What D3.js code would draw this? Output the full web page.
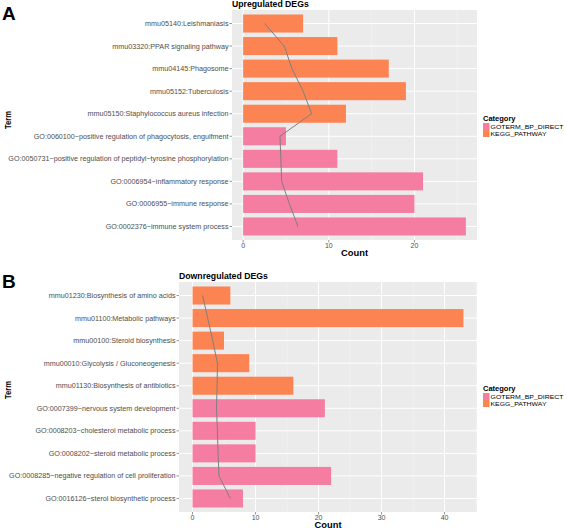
<!DOCTYPE html>
<html><head><meta charset="utf-8">
<script src="https://cdn.jsdelivr.net/npm/d3@7"></script>
<style>body{margin:0;background:#fff}svg{display:block}text{font-family:"Liberation Sans",Arial,sans-serif}</style>
</head><body>
<script>
// ---- data ----
const upTerms = ["mmu05140:Leishmaniasis","mmu03320:PPAR signaling pathway","mmu04145:Phagosome","mmu05152:Tuberculosis","mmu05150:Staphylococcus aureus infection","GO:0060100~positive regulation of phagocytosis, engulfment","GO:0050731~positive regulation of peptidyl~tyrosine phosphorylation","GO:0006954~inflammatory response","GO:0006955~immune response","GO:0002376~immune system process"];
const upCategory = ["KEGG_PATHWAY","KEGG_PATHWAY","KEGG_PATHWAY","KEGG_PATHWAY","KEGG_PATHWAY","GOTERM_BP_DIRECT","GOTERM_BP_DIRECT","GOTERM_BP_DIRECT","GOTERM_BP_DIRECT","GOTERM_BP_DIRECT"];
const upCount = [7,11,17,19,12,5,11,21,20,26];
const upLine = [2.5,4.8,5.7,7.0,8.0,4.3,4.4,4.5,5.4,6.4];

const downTerms = ["mmu01230:Biosynthesis of amino acids","mmu01100:Metabolic pathways","mmu00100:Steroid biosynthesis","mmu00010:Glycolysis / Gluconeogenesis","mmu01130:Biosynthesis of antibiotics","GO:0007399~nervous system development","GO:0008203~cholesterol metabolic process","GO:0008202~steroid metabolic process","GO:0008285~negative regulation of cell proliferation","GO:0016126~sterol biosynthetic process"];
const downCategory = ["KEGG_PATHWAY","KEGG_PATHWAY","KEGG_PATHWAY","KEGG_PATHWAY","KEGG_PATHWAY","GOTERM_BP_DIRECT","GOTERM_BP_DIRECT","GOTERM_BP_DIRECT","GOTERM_BP_DIRECT","GOTERM_BP_DIRECT"];
const downCount = [6,43,5,9,16,21,10,10,22,8];
const downLine = [1.6,2.4,3.2,3.95,3.9,3.8,3.95,4.05,4.2,6.0];

const upTicks = [0,10,20];
const downTicks = [0,10,20,30,40];
const categories = ["GOTERM_BP_DIRECT","KEGG_PATHWAY"];
const colors = ["#F47DA1","#FB8452"];

const svg = d3.select("body").append("svg").attr("width",567).attr("height",528);
const color = d3.scaleOrdinal().domain(categories).range(colors);

function panel(o){
  const g = svg.append("g");
  const n = o.terms.length;
  const maxV = d3.max(o.count);
  const x = d3.scaleLinear().domain([-0.05*maxV, maxV*1.05]).range([o.x0,o.x1]);
  const y = d3.scaleLinear().domain([0.4, n+0.6]).range([o.y0,o.y1]);
  g.append("rect").attr("x",o.x0).attr("y",o.y0).attr("width",o.x1-o.x0).attr("height",o.y1-o.y0).attr("fill","#EBEBEB");
  const step = o.ticks[1]-o.ticks[0];
  const minor = o.ticks.map(t=>t+step/2).filter(v=>x(v)<o.x1);
  g.selectAll(".mn").data(minor).enter().append("line").attr("x1",d=>x(d)).attr("x2",d=>x(d)).attr("y1",o.y0).attr("y2",o.y1).attr("stroke","#F7F7F7").attr("stroke-width",0.5);
  g.selectAll(".mj").data(o.ticks).enter().append("line").attr("x1",d=>x(d)).attr("x2",d=>x(d)).attr("y1",o.y0).attr("y2",o.y1).attr("stroke","#fff").attr("stroke-width",1);
  g.selectAll(".hg").data(o.terms).enter().append("line").attr("x1",o.x0).attr("x2",o.x1).attr("y1",(d,i)=>y(i+1)).attr("y2",(d,i)=>y(i+1)).attr("stroke","#fff").attr("stroke-width",1);
  const bw = (y(1)-y(0))*0.8;
  g.selectAll(".bar").data(o.count).enter().append("rect")
    .attr("x",x(0)).attr("y",(d,i)=>y(i+1)-bw/2).attr("width",d=>x(d)-x(0)).attr("height",bw)
    .attr("fill",(d,i)=>color(o.cat[i]));
  const line = d3.line().x(d=>x(d)).y((d,i)=>y(i+1));
  g.append("path").datum(o.line).attr("d",line).attr("fill","none").attr("stroke","#7F7F7F").attr("stroke-width",1);
  g.selectAll(".yt").data(o.terms).enter().append("line").attr("x1",o.x0-2.5).attr("x2",o.x0).attr("y1",(d,i)=>y(i+1)).attr("y2",(d,i)=>y(i+1)).attr("stroke","#4D4D4D").attr("stroke-width",0.6);
  g.selectAll(".yl").data(o.terms).enter().append("text").attr("x",o.x0-3.5).attr("y",(d,i)=>y(i+1)).attr("dy","0.35em")
    .attr("text-anchor","end").attr("font-size",7.2).attr("fill","#4D4D4D").text(d=>d);
  g.selectAll(".xt").data(o.ticks).enter().append("line").attr("x1",d=>x(d)).attr("x2",d=>x(d)).attr("y1",o.y1).attr("y2",o.y1+2.5).attr("stroke","#4D4D4D").attr("stroke-width",0.6);
  g.selectAll(".xl").data(o.ticks).enter().append("text").attr("x",d=>x(d)).attr("y",o.y1+7.8).attr("text-anchor","middle").attr("font-size",7).attr("fill","#4D4D4D").text(d=>d);
  g.append("text").attr("x",(o.x0+o.x1)/2).attr("y",o.y1+15.5).attr("text-anchor","middle").attr("font-size",9).attr("font-weight","bold")
    .attr("textLength",27).attr("lengthAdjust","spacingAndGlyphs").text("Count");
  g.append("text").attr("transform",`translate(10.5,${o.termY}) rotate(-90)`).attr("text-anchor","middle").attr("font-size",9.5).attr("font-weight","bold")
    .attr("textLength",18).attr("lengthAdjust","spacingAndGlyphs").text("Term");
  g.append("text").attr("x",o.x0).attr("y",o.y0-3).attr("font-size",8.7).attr("font-weight","bold").text(o.title);
  g.append("text").attr("x",2).attr("y",o.letterY).attr("font-size",19).attr("font-weight","bold").text(o.letter);
  const lg = g.append("g").attr("transform",`translate(483,${o.legY})`);
  lg.append("text").attr("x",0).attr("y",0).attr("font-size",7.5).attr("font-weight","bold").text("Category");
  const lens = [73,56];
  categories.forEach((c,i)=>{
    lg.append("rect").attr("x",0).attr("y",2+i*7).attr("width",6.5).attr("height",7).attr("fill",color(c));
    lg.append("text").attr("x",7.5).attr("y",7.6+i*7).attr("font-size",6.2).attr("fill","#000")
      .attr("textLength",lens[i]).attr("lengthAdjust","spacingAndGlyphs").text(c);
  });
}

panel({terms:upTerms,cat:upCategory,count:upCount,line:upLine,ticks:upTicks,x0:232,x1:477,y0:10,y1:240,title:"Upregulated DEGs",letter:"A",letterY:20,legY:121,termY:120});
panel({terms:downTerms,cat:downCategory,count:downCount,line:downLine,ticks:downTicks,x0:179,x1:477,y0:282,y1:512,title:"Downregulated DEGs",letter:"B",letterY:288,legY:391,termY:390});
</script>
</body></html>
